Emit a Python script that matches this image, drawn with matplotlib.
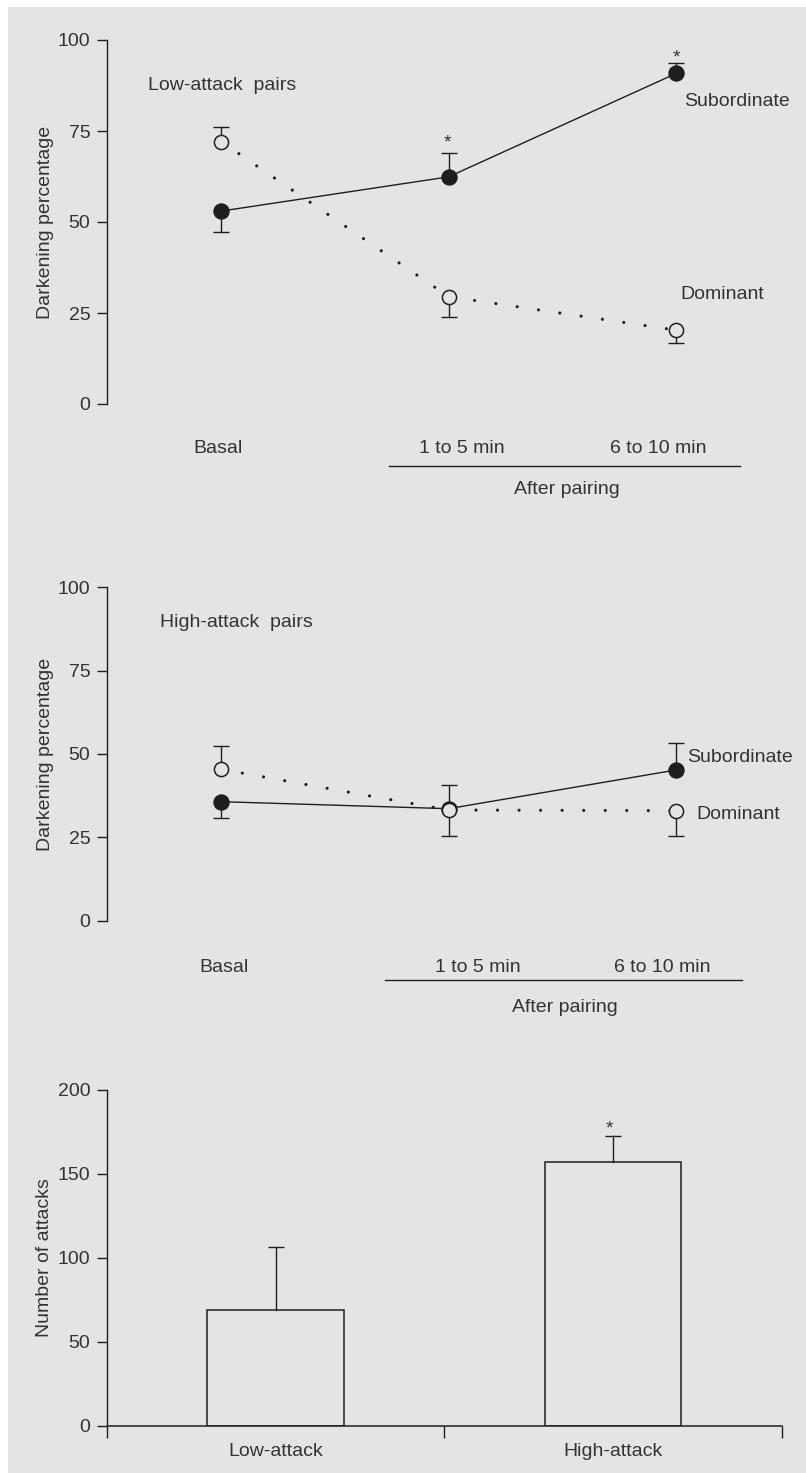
import matplotlib
matplotlib.use("Agg")
import matplotlib.pyplot as plt
from matplotlib.patches import Rectangle
import numpy as np

# ---------------- data ----------------
periods = ["Basal", "1 to 5 min", "6 to 10 min"]

low_sub_mean = [53.0, 62.4, 90.8]
low_sub_err = [5.7, 6.6, 3.0]
low_sub_dir = [-1, 1, 1]
low_dom_mean = [72.1, 29.5, 20.3]
low_dom_err = [3.9, 5.5, 3.5]
low_dom_dir = [1, -1, -1]

high_sub_mean = [35.7, 33.6, 45.2]
high_sub_err = [4.8, 7.2, 8.0]
high_sub_dir = [-1, 1, 1]
high_dom_mean = [45.4, 33.2, 33.0]
high_dom_err = [7.0, 7.8, 7.5]
high_dom_dir = [1, -1, -1]

groups = ["Low-attack", "High-attack"]
attacks_mean = [69.2, 157.1]
attacks_err = [37.3, 15.5]

# ---------------- style ----------------
plt.rcParams['font.family'] = ['Liberation Sans', 'DejaVu Sans']
plt.rcParams['lines.scale_dashes'] = False
BG = '#e3e4e6'
TXT = '#333333'
INK = '#1e1e1e'
FS = 14

W, H = 806, 1473
fig = plt.figure(figsize=(W / 100, H / 100), dpi=100)
fig.patch.set_facecolor('white')
fig.patches.append(Rectangle((8 / W, 0), 1 - 8 / W, 1 - 7 / H, transform=fig.transFigure,
                             facecolor=BG, edgecolor='none', zorder=-10))


def style_axis(ax):
    ax.set_facecolor('none')
    for s in ['top', 'right']:
        ax.spines[s].set_visible(False)
    ax.spines['left'].set_color(INK)
    ax.spines['left'].set_linewidth(1.0)
    ax.tick_params(axis='y', direction='out', length=7, width=1.0, color=INK,
                   labelsize=FS, labelcolor=TXT, pad=5)


def draw_errs(ax, x, means, errs, dirs, z):
    for xi, m, e, d in zip(x, means, errs, dirs):
        top = m + d * e
        ax.plot([xi, xi], [m, top], color=INK, lw=1.0, zorder=z, clip_on=False)
        ax.plot([xi], [top], marker='_', ms=11.5, mew=1.0, color=INK, zorder=z, clip_on=False)


def line_panel(ax, title, sub_m, sub_e, sub_d, dom_m, dom_e, dom_d,
               title_xy, sub_xy, dom_xy, lab_x, lab_y, line_x, line_y, after_xy, stars):
    style_axis(ax)
    x = np.arange(len(periods))
    ax.set_xlim(-0.5015, 2.457)
    ax.set_ylim(0, 100)
    ax.spines['bottom'].set_visible(False)
    ax.set_xticks([])
    ax.set_yticks([0, 25, 50, 75, 100])
    ax.set_ylabel("Darkening percentage", fontsize=FS, color=TXT)
    ax.yaxis.set_label_coords(-0.0921, 0.5)
    ax.yaxis.label.set_va('center')

    draw_errs(ax, x, sub_m, sub_e, sub_d, 1)
    draw_errs(ax, x, dom_m, dom_e, dom_d, 1)
    ax.plot(x, sub_m, color=INK, lw=1.0, zorder=2, clip_on=False)
    ax.plot(x, dom_m, color=INK, lw=2.3, linestyle=(0, (0.01, 15.5)),
            dash_capstyle='round', zorder=2, clip_on=False)
    ax.plot(x, sub_m, linestyle='none', marker='o', ms=10.8, mfc=INK, mec=INK,
            zorder=3, clip_on=False)
    ax.plot(x, dom_m, linestyle='none', marker='o', ms=10.2, mfc=BG, mec=INK, mew=1.1,
            zorder=4, clip_on=False)

    ax.text(*title_xy, title, fontsize=FS, color=TXT, ha='left', va='center')
    ax.text(*sub_xy, "Subordinate", fontsize=FS, color=TXT, ha='left', va='center')
    ax.text(*dom_xy, "Dominant", fontsize=FS, color=TXT, ha='left', va='center')
    for sx, sy in stars:
        ax.text(sx, sy, "*", fontsize=FS, color=TXT, ha='center', va='baseline')

    for lx, lab in zip(lab_x, periods):
        ax.text(lx, lab_y, lab, fontsize=FS, color=TXT, ha='center', va='center', clip_on=False)
    ax.plot(line_x, [line_y, line_y], color=INK, lw=1.0, clip_on=False)
    ax.text(*after_xy, "After pairing", fontsize=FS, color=TXT, ha='center', va='center',
            clip_on=False)


ax1 = fig.add_axes([107 / W, 1 - 404 / H, 673 / W, 364 / H])
line_panel(ax1, "Low-attack  pairs", low_sub_mean, low_sub_err, low_sub_dir,
           low_dom_mean, low_dom_err, low_dom_dir,
           title_xy=(-0.32, 87.6), sub_xy=(2.035, 83.0), dom_xy=(2.02, 30.0),
           lab_x=[-0.015, 1.06, 1.92], lab_y=-12.1, line_x=[0.738, 2.28], line_y=-17.0,
           after_xy=(1.52, -23.6), stars=[(0.995, 70.6), (2.0, 93.9)])

ax2 = fig.add_axes([107 / W, 1 - 920.7 / H, 673 / W, 333.4 / H])
line_panel(ax2, "High-attack  pairs", high_sub_mean, high_sub_err, high_sub_dir,
           high_dom_mean, high_dom_err, high_dom_dir,
           title_xy=(-0.268, 89.3), sub_xy=(2.05, 49.1), dom_xy=(2.09, 32.0),
           lab_x=[0.013, 1.13, 1.94], lab_y=-13.9, line_x=[0.72, 2.29], line_y=-17.8,
           after_xy=(1.51, -25.9), stars=[])

# ---------------- bar panel ----------------
ax3 = fig.add_axes([107 / W, 1 - 1426 / H, 674.5 / W, 336 / H])
style_axis(ax3)
ax3.spines['bottom'].set_color(INK)
ax3.spines['bottom'].set_linewidth(1.1)
ax3.set_xlim(0, 2)
ax3.set_ylim(0, 200)
ax3.set_yticks([0, 50, 100, 150, 200])
bx = np.arange(len(groups)) + 0.5
ax3.bar(bx, attacks_mean, width=0.405, facecolor='none', edgecolor=INK, linewidth=1.1, zorder=2)
draw_errs(ax3, bx, attacks_mean, attacks_err, [1, 1], 1)
ax3.set_xticks([0, 1, 2])
ax3.set_xticklabels([])
ax3.set_xticks(bx, minor=True)
ax3.set_xticklabels(groups, minor=True)
ax3.tick_params(axis='x', which='major', direction='out', length=8.6, width=1.0, color=INK)
ax3.tick_params(axis='x', which='minor', length=0, labelsize=FS, labelcolor=TXT, pad=12)
ax3.set_ylabel("Number of attacks", fontsize=FS, color=TXT)
ax3.yaxis.set_label_coords(-0.0934, 0.5)
ax3.yaxis.label.set_va('center')
ax3.text(1.49, 174.4, "*", fontsize=FS, color=TXT, ha='center', va='baseline')

fig.savefig("out.png", dpi=100, facecolor=fig.get_facecolor())
